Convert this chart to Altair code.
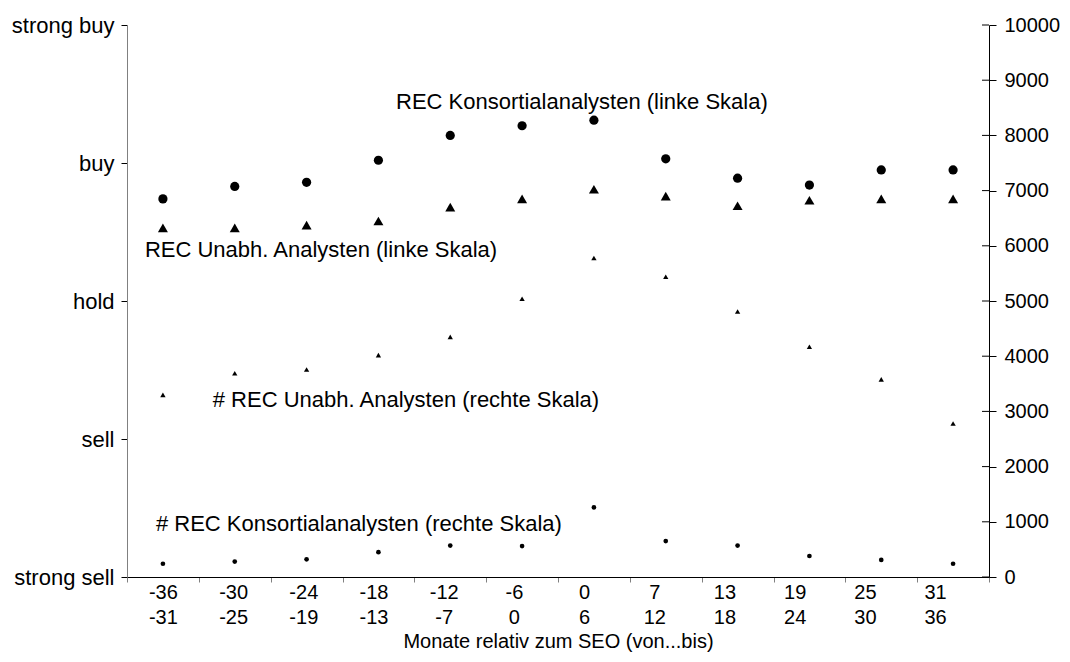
import altair as alt
import pandas as pd

categories = ["-36|-31", "-30|-25", "-24|-19", "-18|-13", "-12|-7", "-6|0",
              "0|6", "7|12", "13|18", "19|24", "25|30", "31|36"]
rec_konsortial = [3.74, 3.83, 3.86, 4.02, 4.20, 4.27, 4.31, 4.03, 3.89, 3.84, 3.95, 3.95]
rec_unabh = [3.53, 3.53, 3.55, 3.58, 3.68, 3.74, 3.81, 3.76, 3.69, 3.73, 3.74, 3.74]
n_rec_unabh = [3300, 3690, 3760, 4020, 4350, 5040, 5780, 5440, 4810, 4170, 3580, 2780]
n_rec_konsortial = [240, 280, 320, 450, 570, 560, 1260, 650, 570, 380, 310, 240]
left_ticks = [1, 2, 3, 4, 5]
left_labels = ["strong sell", "sell", "hold", "buy", "strong buy"]
right_ticks = [0, 1000, 2000, 3000, 4000, 5000, 6000, 7000, 8000, 9000, 10000]

FONT = "Liberation Sans"
W, H = 862, 552

df = pd.DataFrame({
    "cat": categories,
    "rec_k": rec_konsortial,
    "rec_u": rec_unabh,
    "n_u": n_rec_unabh,
    "n_k": n_rec_konsortial,
})
ticks_df = pd.DataFrame({"v": right_ticks})

label_map = "{" + ",".join(f"'{t}':'{l}'" for t, l in zip(left_ticks, left_labels)) + "}"

xenc = alt.X(
    "cat:N", sort=categories,
    scale=alt.Scale(type="band", domain=categories, paddingInner=0, paddingOuter=0),
    axis=alt.Axis(
        title="Monate relativ zum SEO (von...bis)",
        labelExpr="split(datum.label, '|')",
        labelAngle=0, labelFont=FONT, labelFontSize=20, labelColor="black",
        labelLineHeight=25, labelPadding=0,
        labelOffset={"expr": "-datum.index * 18"},
        tickBand="extent", tickSize=5, tickColor="#808080",
        domainColor="black", titleFont=FONT, titleFontSize=20,
        titleFontWeight="normal", titleColor="black", titlePadding=4,
    ),
)

yleft_scale = alt.Scale(domain=[1, 5], nice=False, zero=False)
yleft_axis = alt.Axis(
    orient="left", values=left_ticks, title=None, grid=False,
    labelExpr=f"{label_map}[datum.value]",
    labelFont=FONT, labelFontSize=22, labelColor="black", labelPadding=7,
    tickSize=6, tickColor="black", domainColor="#808080",
)
yright_scale = alt.Scale(domain=[0, 10000], nice=False)
yright_axis = alt.Axis(
    orient="right", values=right_ticks, title=None, grid=False, format="d",
    labelFont=FONT, labelFontSize=20, labelColor="black", labelPadding=8,
    tickSize=7, tickColor="black", domainColor="black",
)

base = alt.Chart(df)

big_circles = base.mark_point(shape="circle", filled=True, color="black", size=85, opacity=1).encode(
    x=xenc, y=alt.Y("rec_k:Q", scale=yleft_scale, axis=yleft_axis))
big_tri = base.mark_point(shape="triangle-up", filled=True, color="black", size=100, opacity=1).encode(
    x=xenc, y=alt.Y("rec_u:Q", scale=yleft_scale, axis=yleft_axis))

ann_left1 = alt.Chart(pd.DataFrame({"cat": ["0|6"], "v": [4.442],
                                    "t": ["REC Konsortialanalysten (linke Skala)"]})).mark_text(
    font=FONT, fontSize=22, color="black", align="center", baseline="middle", dx=-12).encode(
    x=xenc, y=alt.Y("v:Q", scale=yleft_scale, axis=yleft_axis), text="t:N")
ann_left2 = alt.Chart(pd.DataFrame({"cat": ["-36|-31"], "v": [3.37],
                                    "t": ["REC Unabh. Analysten (linke Skala)"]})).mark_text(
    font=FONT, fontSize=22, color="black", align="left", baseline="middle", dx=-18).encode(
    x=xenc, y=alt.Y("v:Q", scale=yleft_scale, axis=yleft_axis), text="t:N")

left_layer = alt.layer(big_circles, big_tri, ann_left1, ann_left2)

small_tri = base.mark_point(shape="triangle-up", filled=True, color="black", size=28, opacity=1).encode(
    x=xenc, y=alt.Y("n_u:Q", scale=yright_scale, axis=yright_axis))
small_circles = base.mark_point(shape="circle", filled=True, color="black", size=22, opacity=1).encode(
    x=xenc, y=alt.Y("n_k:Q", scale=yright_scale, axis=yright_axis))

ann_right1 = alt.Chart(pd.DataFrame({"cat": ["-30|-25"], "v": [3207],
                                     "t": ["# REC Unabh. Analysten (rechte Skala)"]})).mark_text(
    font=FONT, fontSize=22, color="black", align="left", baseline="middle", dx=-22).encode(
    x=xenc, y=alt.Y("v:Q", scale=yright_scale, axis=yright_axis), text="t:N")
ann_right2 = alt.Chart(pd.DataFrame({"cat": ["-36|-31"], "v": [969],
                                     "t": ["# REC Konsortialanalysten (rechte Skala)"]})).mark_text(
    font=FONT, fontSize=22, color="black", align="left", baseline="middle", dx=-7).encode(
    x=xenc, y=alt.Y("v:Q", scale=yright_scale, axis=yright_axis), text="t:N")

inner_ticks = alt.Chart(ticks_df).mark_rule(color="black", strokeWidth=1).encode(
    y=alt.Y("v:Q", scale=yright_scale, axis=yright_axis),
    x=alt.value(W - 7), x2=alt.value(W))

right_layer = alt.layer(small_tri, small_circles, ann_right1, ann_right2, inner_ticks)

chart = alt.layer(left_layer, right_layer).resolve_scale(y="independent").properties(
    width=W, height=H,
    padding={"left": 119, "top": 17, "right": 1070 - 16 - 119 - W, "bottom": 646 - 17 - H},
    autosize=alt.AutoSizeParams(type="none"),
    background="white",
).configure_view(stroke=None)

chart.save("out.html", embed_options={"renderer": "svg", "actions": False})
